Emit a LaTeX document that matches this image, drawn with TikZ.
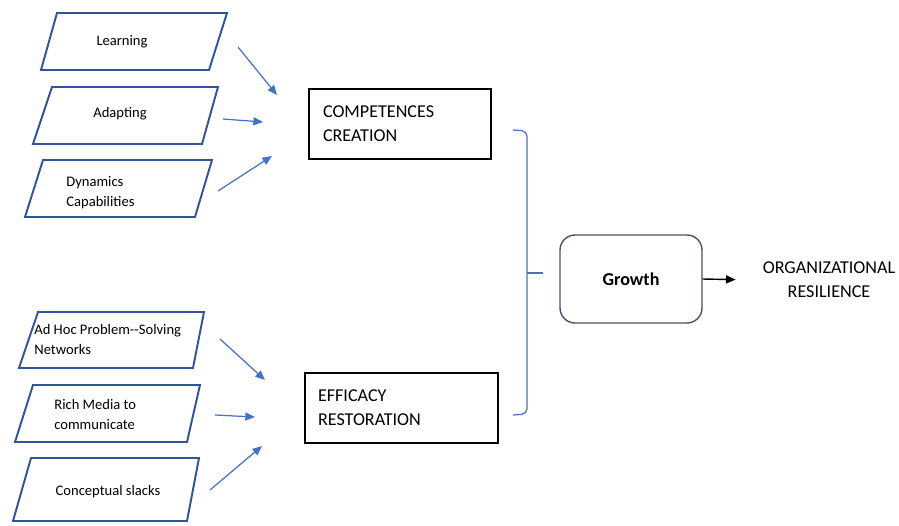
\documentclass[tikz,border=0pt]{standalone}
\usepackage{fontspec}
\setmainfont{Carlito}
\usepackage{tikz}
\usetikzlibrary{calc,arrows.meta}
\tikzset{>={Triangle[length=5.5pt,width=4.6pt]}}
\definecolor{paraline}{HTML}{2F5597}
\definecolor{arrblue}{HTML}{4472C4}
\definecolor{growline}{HTML}{44546A}

\begin{document}
\begin{tikzpicture}[x=0.02cm,y=-0.02cm,
    para/.style={line width=1.1pt,paraline},
    small/.style={font=\fontsize{8.3}{11.4}\selectfont,inner sep=0pt},
    big/.style={font=\fontsize{10.3}{13.7}\selectfont},
    barrow/.style={->,arrblue,line width=0.7pt},
    box/.style={draw,line width=0.6pt,minimum height=1.4cm,align=left}]
    \useasboundingbox (0,0) rectangle (899,525);

    % input parallelograms
    \draw[para] (57,13)--(227,13)--(209,70)--(41,70)--cycle;
    \draw[para] (52,87)--(218,87)--(202,144)--(33,144)--cycle;
    \draw[para] (43,160)--(212,160)--(195,217)--(25,217)--cycle;
    \draw[para] (38,312)--(204,312)--(193,368)--(19,368)--cycle;
    \draw[para] (33,385)--(200,385)--(187,442)--(15,442)--cycle;
    \draw[para] (31,458)--(199,458)--(187,521)--(13,521)--cycle;

    \node[small] (learn) at (122,42) {Learning};
    \node[small] (adapt) at (120,114) {Adapting};
    \node[small,align=left,anchor=west] (dyncap) at (66,193) {Dynamics\\Capabilities};
    \node[small,align=left,anchor=west] (adhoc) at (34,339) {Ad Hoc Problem-{}-Solving\\Networks};
    \node[small,align=left,anchor=west] (rich) at (54,414) {Rich Media to\\communicate};
    \node[small] (slack) at (108,492) {Conceptual slacks};

    % middle boxes
    \node[box,big,minimum width=3.64cm,inner xsep=0.28cm,text width=3.08cm] (comp) at (400,124) {COMPETENCES\\CREATION};
    \node[box,big,minimum width=3.86cm,inner xsep=0.26cm,text width=3.34cm] (eff) at (401.5,408) {EFFICACY\\RESTORATION};

    \node[draw=growline,line width=0.8pt,rounded corners=0.3cm,minimum width=2.84cm,minimum height=1.76cm,
          font=\fontsize{10.3}{13.7}\selectfont\bfseries] (growth) at (631,279) {Growth};
    \node[big,align=center] (res) at (829,280) {ORGANIZATIONAL\\RESILIENCE};
    \draw[->,line width=0.8pt] (growth.east) -- (res.west) [shorten >=0.42cm];

    % blue arrows, free ends
    \coordinate (a1) at (238,47);  \coordinate (b1) at (277,95);
    \coordinate (a2) at (223,119); \coordinate (b2) at (263,122);
    \coordinate (a3) at (218,191); \coordinate (b3) at (272,156);
    \coordinate (a4) at (220,339); \coordinate (b4) at (265,380);
    \coordinate (a5) at (215,415); \coordinate (b5) at (255,417);
    \coordinate (a6) at (210,490); \coordinate (b6) at (262,446);
    \draw[barrow] (a1)--(b1);
    \draw[barrow] (a2)--(b2);
    \draw[barrow] (a3)--(b3);
    \draw[barrow] (a4)--(b4);
    \draw[barrow] (a5)--(b5);
    \draw[barrow] (a6)--(b6);

    % bracket
    \draw[arrblue,line width=0.7pt,rounded corners=3pt] (513,130)--(527,131)--(527,414)--(513,415);
    \draw[arrblue,line width=0.7pt] (527,273)--(543,273);
\end{tikzpicture}
\end{document}
